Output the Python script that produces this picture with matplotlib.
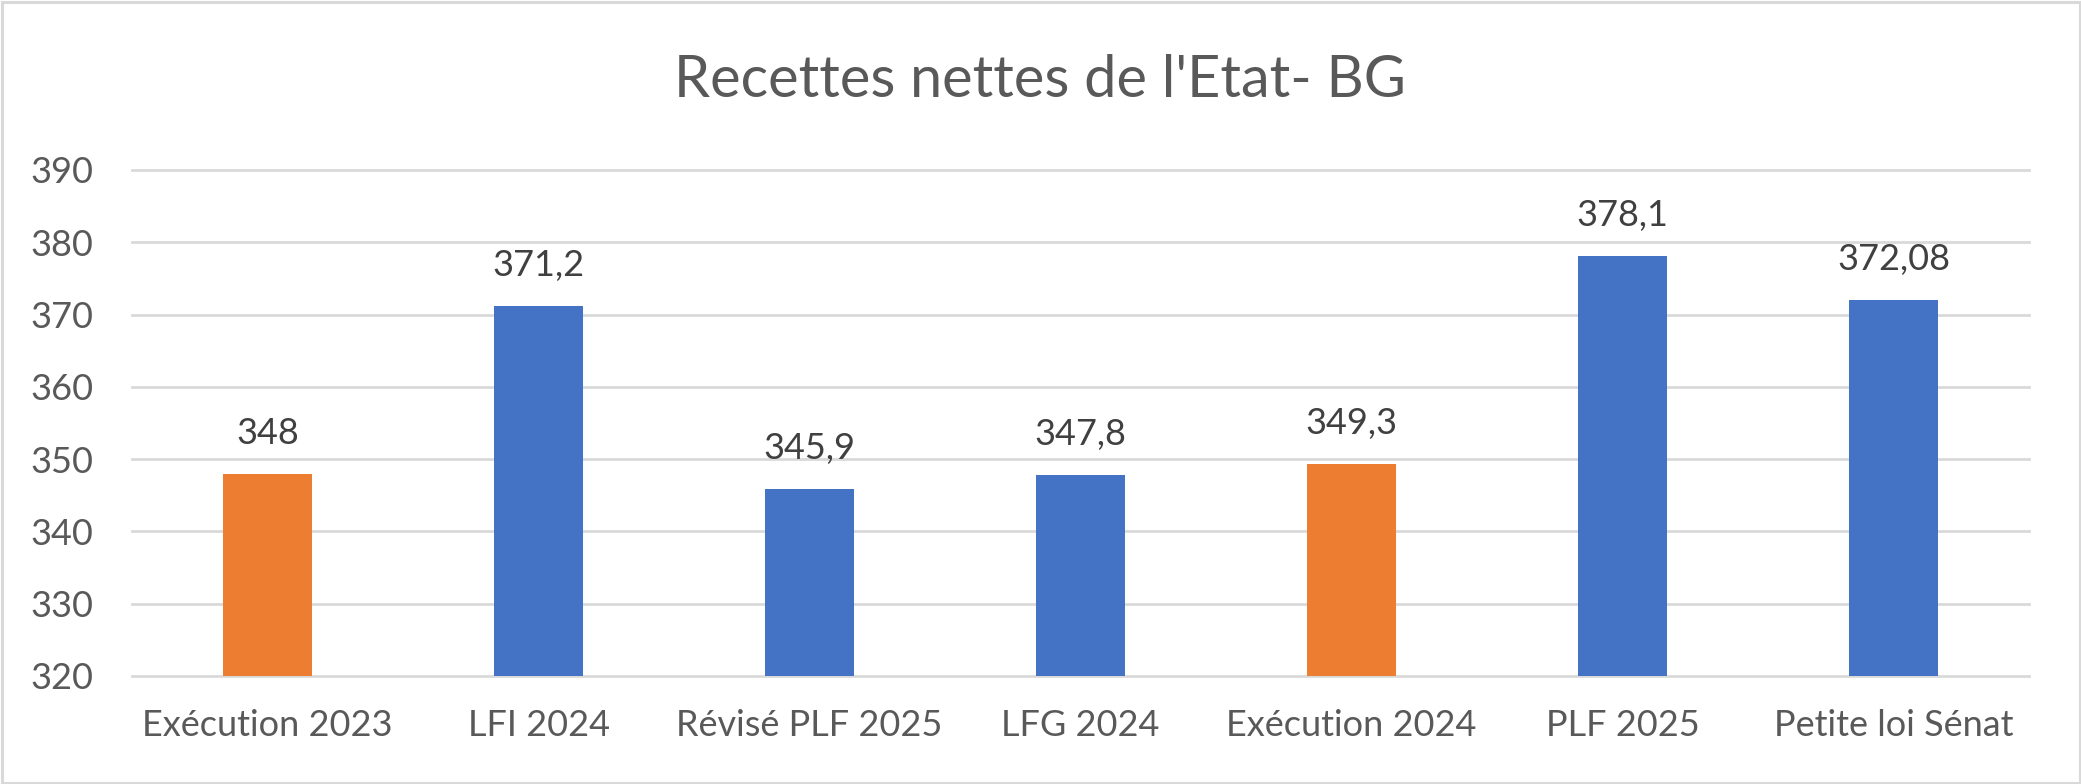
import matplotlib.pyplot as plt
from matplotlib.patches import Rectangle

# data
categories = ['Exécution 2023', 'LFI 2024', 'Révisé PLF 2025', 'LFG 2024',
              'Exécution 2024', 'PLF 2025', 'Petite loi Sénat']
values = [348, 371.2, 345.9, 347.8, 349.3, 378.1, 372.08]
is_execution = [True, False, False, False, True, False, False]
yticks = [320, 330, 340, 350, 360, 370, 380, 390]
title = "Recettes nettes de l'Etat- BG"

W, H = 2081, 784
plt.rcParams['font.family'] = ['Lato', 'DejaVu Sans']

fig = plt.figure(figsize=(W / 100, H / 100), dpi=100)
ax = fig.add_axes([132 / W, (H - 676) / H, (2029 - 132) / W, (676 - 170) / H])

colors = ['#ED7D31' if e else '#4472C4' for e in is_execution]
x = list(range(len(categories)))
ax.bar(x, values, width=0.325, color=colors, zorder=2)

ax.set_xlim(-0.5, len(categories) - 0.5)
ax.set_ylim(320, 390)
ax.set_yticks(yticks)
ax.set_xticks(x)
ax.set_xticklabels(categories)

for s in ax.spines.values():
    s.set_visible(False)
ax.tick_params(axis='both', length=0, labelsize=26, labelcolor='#595959')
ax.tick_params(axis='y', pad=28)
ax.tick_params(axis='x', pad=24)
ax.yaxis.grid(True, color='#D9D9D9', linewidth=2.0, zorder=0)
ax.set_axisbelow(True)
for gl in ax.get_ygridlines():
    gl.set_clip_on(False)

# data labels
for xi, v in zip(x, values):
    ax.annotate(f"{v:g}".replace('.', ','), (xi, v), xytext=(0, 21.5),
                textcoords='offset points', ha='center', va='baseline',
                fontsize=26, color='#404040')

fig.text(1040 / W, 1 - 97 / H, title, ha='center', va='baseline',
         fontsize=41.5, color='#595959')

# chart border
fig.patches.append(Rectangle((1.5 / W, 1.5 / H), (W - 3) / W, (H - 3) / H,
                             transform=fig.transFigure, fill=False,
                             edgecolor='#D9D9D9', linewidth=2.2))

fig.savefig('out.png', dpi=100)
